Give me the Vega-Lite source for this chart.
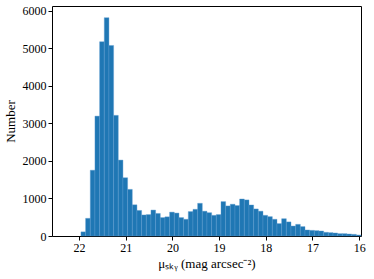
{
  "$schema": "https://vega.github.io/schema/vega-lite/v6.json",
  "width": 309,
  "height": 230,
  "autosize": {"type": "none"},
  "padding": {"left": 52, "top": 6, "right": 13, "bottom": 43},
  "background": "white",
  "config": {
    "font": "Liberation Serif",
    "view": {"stroke": "#000000", "strokeWidth": 1},
    "axis": {
      "grid": false,
      "domain": false,
      "tickColor": "#000000",
      "tickSize": 4,
      "labelColor": "#000000",
      "labelFont": "Liberation Serif",
      "labelFontSize": 12,
      "titleFont": "Liberation Serif",
      "titleFontSize": 13,
      "titleFontWeight": "normal",
      "titleColor": "#000000",
      "labelPadding": 2
    }
  },
  "data": {
    "values": [
      {"hi": 21.96, "lo": 21.86, "n": 110},
      {"hi": 21.86, "lo": 21.76, "n": 470},
      {"hi": 21.76, "lo": 21.66, "n": 1750},
      {"hi": 21.66, "lo": 21.56, "n": 3190},
      {"hi": 21.56, "lo": 21.46, "n": 5170},
      {"hi": 21.46, "lo": 21.36, "n": 5810},
      {"hi": 21.36, "lo": 21.26, "n": 5070},
      {"hi": 21.26, "lo": 21.16, "n": 3210},
      {"hi": 21.16, "lo": 21.06, "n": 2020},
      {"hi": 21.06, "lo": 20.96, "n": 1550},
      {"hi": 20.96, "lo": 20.86, "n": 1240},
      {"hi": 20.86, "lo": 20.76, "n": 830},
      {"hi": 20.76, "lo": 20.66, "n": 680},
      {"hi": 20.66, "lo": 20.56, "n": 560},
      {"hi": 20.56, "lo": 20.46, "n": 570},
      {"hi": 20.46, "lo": 20.36, "n": 690},
      {"hi": 20.36, "lo": 20.26, "n": 600},
      {"hi": 20.26, "lo": 20.16, "n": 490},
      {"hi": 20.16, "lo": 20.06, "n": 510},
      {"hi": 20.06, "lo": 19.96, "n": 635},
      {"hi": 19.96, "lo": 19.86, "n": 610},
      {"hi": 19.86, "lo": 19.76, "n": 490},
      {"hi": 19.76, "lo": 19.66, "n": 445},
      {"hi": 19.66, "lo": 19.56, "n": 650},
      {"hi": 19.56, "lo": 19.46, "n": 710},
      {"hi": 19.46, "lo": 19.36, "n": 870},
      {"hi": 19.36, "lo": 19.26, "n": 660},
      {"hi": 19.26, "lo": 19.16, "n": 620},
      {"hi": 19.16, "lo": 19.06, "n": 550},
      {"hi": 19.06, "lo": 18.96, "n": 570},
      {"hi": 18.96, "lo": 18.86, "n": 915},
      {"hi": 18.86, "lo": 18.76, "n": 800},
      {"hi": 18.76, "lo": 18.66, "n": 845},
      {"hi": 18.66, "lo": 18.56, "n": 810},
      {"hi": 18.56, "lo": 18.46, "n": 985},
      {"hi": 18.46, "lo": 18.36, "n": 960},
      {"hi": 18.36, "lo": 18.26, "n": 825},
      {"hi": 18.26, "lo": 18.16, "n": 720},
      {"hi": 18.16, "lo": 18.06, "n": 660},
      {"hi": 18.06, "lo": 17.96, "n": 550},
      {"hi": 17.96, "lo": 17.86, "n": 515},
      {"hi": 17.86, "lo": 17.76, "n": 445},
      {"hi": 17.76, "lo": 17.66, "n": 330},
      {"hi": 17.66, "lo": 17.56, "n": 460},
      {"hi": 17.56, "lo": 17.46, "n": 375},
      {"hi": 17.46, "lo": 17.36, "n": 265},
      {"hi": 17.36, "lo": 17.26, "n": 310},
      {"hi": 17.26, "lo": 17.16, "n": 250},
      {"hi": 17.16, "lo": 17.06, "n": 160},
      {"hi": 17.06, "lo": 16.96, "n": 150},
      {"hi": 16.96, "lo": 16.86, "n": 142},
      {"hi": 16.86, "lo": 16.76, "n": 133},
      {"hi": 16.76, "lo": 16.66, "n": 98},
      {"hi": 16.66, "lo": 16.56, "n": 89},
      {"hi": 16.56, "lo": 16.46, "n": 80},
      {"hi": 16.46, "lo": 16.36, "n": 62},
      {"hi": 16.36, "lo": 16.26, "n": 62},
      {"hi": 16.26, "lo": 16.16, "n": 53},
      {"hi": 16.16, "lo": 16.06, "n": 44},
      {"hi": 16.06, "lo": 15.96, "n": 27}
    ]
  },
  "mark": {"type": "bar", "color": "#1f77b4", "stroke": "#5b9bd0", "strokeWidth": 0.4},
  "encoding": {
    "x": {
      "field": "hi",
      "type": "quantitative",
      "scale": {"domain": [15.96, 22.58], "reverse": true, "nice": false, "zero": false},
      "axis": {"values": [22, 21, 20, 19, 18, 17, 16], "format": "d", "title": "μₛₖᵧ (mag arcsec⁻²)", "titlePadding": 4}
    },
    "x2": {"field": "lo"},
    "y": {
      "field": "n",
      "type": "quantitative",
      "scale": {"domain": [0, 6120], "nice": false},
      "axis": {"values": [0, 1000, 2000, 3000, 4000, 5000, 6000], "format": "d", "title": "Number", "titlePadding": 5}
    },
    "y2": {"datum": 0}
  }
}
